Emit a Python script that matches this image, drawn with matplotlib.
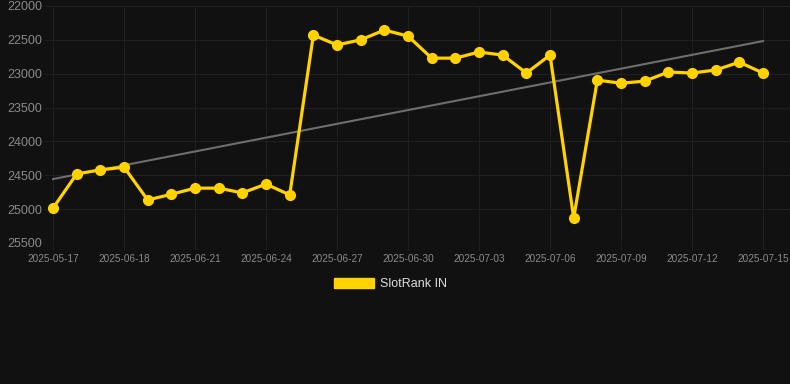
import numpy as np
import matplotlib
matplotlib.use("Agg")
import matplotlib.pyplot as plt
import matplotlib.patches as mpatches

plt.rcParams["font.family"] = ["Liberation Sans", "DejaVu Sans"]

# ── Data (rank per day, lower is better -> inverted axis) ────────────────────
dates = ["2025-05-17", "2025-06-16", "2025-06-17", "2025-06-18", "2025-06-19",
         "2025-06-20", "2025-06-21", "2025-06-22", "2025-06-23", "2025-06-24",
         "2025-06-25", "2025-06-26", "2025-06-27", "2025-06-28", "2025-06-29",
         "2025-06-30", "2025-07-01", "2025-07-02", "2025-07-03", "2025-07-04",
         "2025-07-05", "2025-07-06", "2025-07-07", "2025-07-08", "2025-07-09",
         "2025-07-10", "2025-07-11", "2025-07-12", "2025-07-13", "2025-07-14",
         "2025-07-15"]
rank = [24985, 24480, 24420, 24380, 24865, 24780, 24690, 24690, 24760, 24630,
        24790, 22430, 22575, 22500, 22355, 22445, 22770, 22770, 22680, 22725,
        22990, 22725, 25130, 23095, 23140, 23110, 22975, 22990, 22945, 22830,
        22990]
yticks = [22000, 22500, 23000, 23500, 24000, 24500, 25000, 25500]

BG = "#111111"
GOLD = "#ffd200"
GRID = "#1f1f1f"
TXT = "#8a8a8a"

x = np.arange(len(dates))
slope, icpt = np.polyfit(x, rank, 1)
trend = slope * x + icpt

fig = plt.figure(figsize=(7.9, 3.84), dpi=100, facecolor=BG)
ax = fig.add_axes([45 / 790, 1 - 243 / 384, 745 / 790, 237 / 384])
ax.set_facecolor(BG)

ax.plot(x, trend, color="#6e6e6e", lw=1.5, zorder=2)
ax.plot(x, rank, color=GOLD, lw=2.3, marker="o", ms=7, zorder=3)

ax.set_ylim(25500, 22000)
ax.set_yticks(yticks)
ax.set_xlim(-0.34, 31.14)
ax.set_xticks(x[::3])
ax.set_xticklabels(dates[::3])

ax.grid(True, color=GRID, lw=0.8)
for s in ax.spines.values():
    s.set_visible(False)
ax.tick_params(axis="y", length=0, colors=TXT, labelsize=9.0, pad=2)
ax.tick_params(axis="x", length=5, color=GRID, colors=TXT, labelsize=7.2, pad=3)

handle = mpatches.Patch(color=GOLD, label="SlotRank IN")
leg = fig.legend(handles=[handle], loc="center", bbox_to_anchor=(0.494, 0.26),
                 frameon=False, fontsize=9, handlelength=3.2, handleheight=0.9,
                 handletextpad=0.5)
for t in leg.get_texts():
    t.set_color("#dddddd")

fig.savefig("out.png", dpi=100, facecolor=BG)
